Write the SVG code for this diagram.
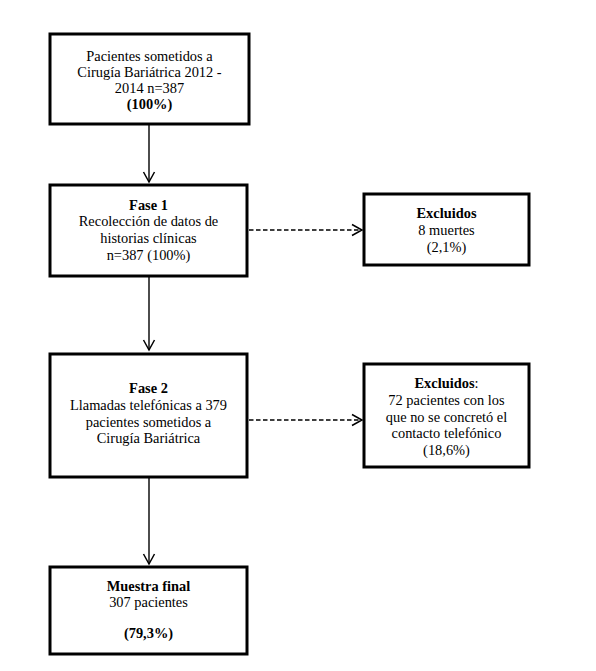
<svg xmlns="http://www.w3.org/2000/svg" width="596" height="671" viewBox="0 0 596 671">
<style>
.box{fill:#fff;stroke:#000;stroke-width:3}
text{font-family:"Liberation Serif","Times New Roman",serif;font-size:14.4px;fill:#000;text-anchor:middle}
.b{font-weight:bold}
.ln{stroke:#000;stroke-width:1.4;fill:none}
.dash{stroke:#000;stroke-width:1.5;fill:none;stroke-dasharray:4.5 2.5}
</style>
<defs>
<marker id="arr" markerWidth="14" markerHeight="14" refX="11" refY="7" orient="auto" markerUnits="userSpaceOnUse">
<path d="M1,1.5 L11,7 L1,12.5" fill="none" stroke="#000" stroke-width="1.5"/>
</marker>
</defs>
<rect width="596" height="671" fill="#fff"/>
<g id="connectors">
<line class="ln" x1="149" y1="125" x2="149" y2="182" marker-end="url(#arr)"/>
<line class="ln" x1="149" y1="277" x2="149" y2="350" marker-end="url(#arr)"/>
<line class="ln" x1="149" y1="478" x2="149" y2="564" marker-end="url(#arr)"/>
<line class="dash" x1="249" y1="230" x2="362" y2="230" marker-end="url(#arr)"/>
<line class="dash" x1="249" y1="420" x2="362" y2="420" marker-end="url(#arr)"/>
</g>
<g id="n1">
<rect class="box" x="50" y="34" width="199" height="90"/>
<text x="149.5" y="61">Pacientes sometidos a</text>
<text x="149.5" y="77">Cirugía Bariátrica 2012 -</text>
<text x="149.5" y="93">2014 n=387</text>
<text x="149.5" y="109" class="b">(100%)</text>
</g>
<g id="n2">
<rect class="box" x="50" y="185" width="197" height="91"/>
<text x="148.5" y="210" class="b">Fase 1</text>
<text x="148.5" y="226">Recolección de datos de</text>
<text x="148.5" y="243">historias clínicas</text>
<text x="148.5" y="260">n=387 (100%)</text>
</g>
<g id="n3">
<rect class="box" x="364" y="194" width="165" height="71"/>
<text x="446.5" y="218" class="b">Excluidos</text>
<text x="446.5" y="235">8 muertes</text>
<text x="446.5" y="252">(2,1%)</text>
</g>
<g id="n4">
<rect class="box" x="50" y="354" width="197" height="123"/>
<text x="148.5" y="393" class="b">Fase 2</text>
<text x="148.5" y="410">Llamadas telefónicas a 379</text>
<text x="148.5" y="427">pacientes sometidos a</text>
<text x="148.5" y="443">Cirugía Bariátrica</text>
</g>
<g id="n5">
<rect class="box" x="364" y="364" width="165" height="103"/>
<text x="446.5" y="388"><tspan class="b">Excluidos</tspan>:</text>
<text x="446.5" y="405">72 pacientes con los</text>
<text x="446.5" y="422">que no se concretó el</text>
<text x="446.5" y="438">contacto telefónico</text>
<text x="446.5" y="455">(18,6%)</text>
</g>
<g id="n6">
<rect class="box" x="50" y="567" width="197" height="87"/>
<text x="148.5" y="591" class="b">Muestra final</text>
<text x="148.5" y="607">307 pacientes</text>
<text x="148.5" y="638" class="b">(79,3%)</text>
</g>
</svg>
